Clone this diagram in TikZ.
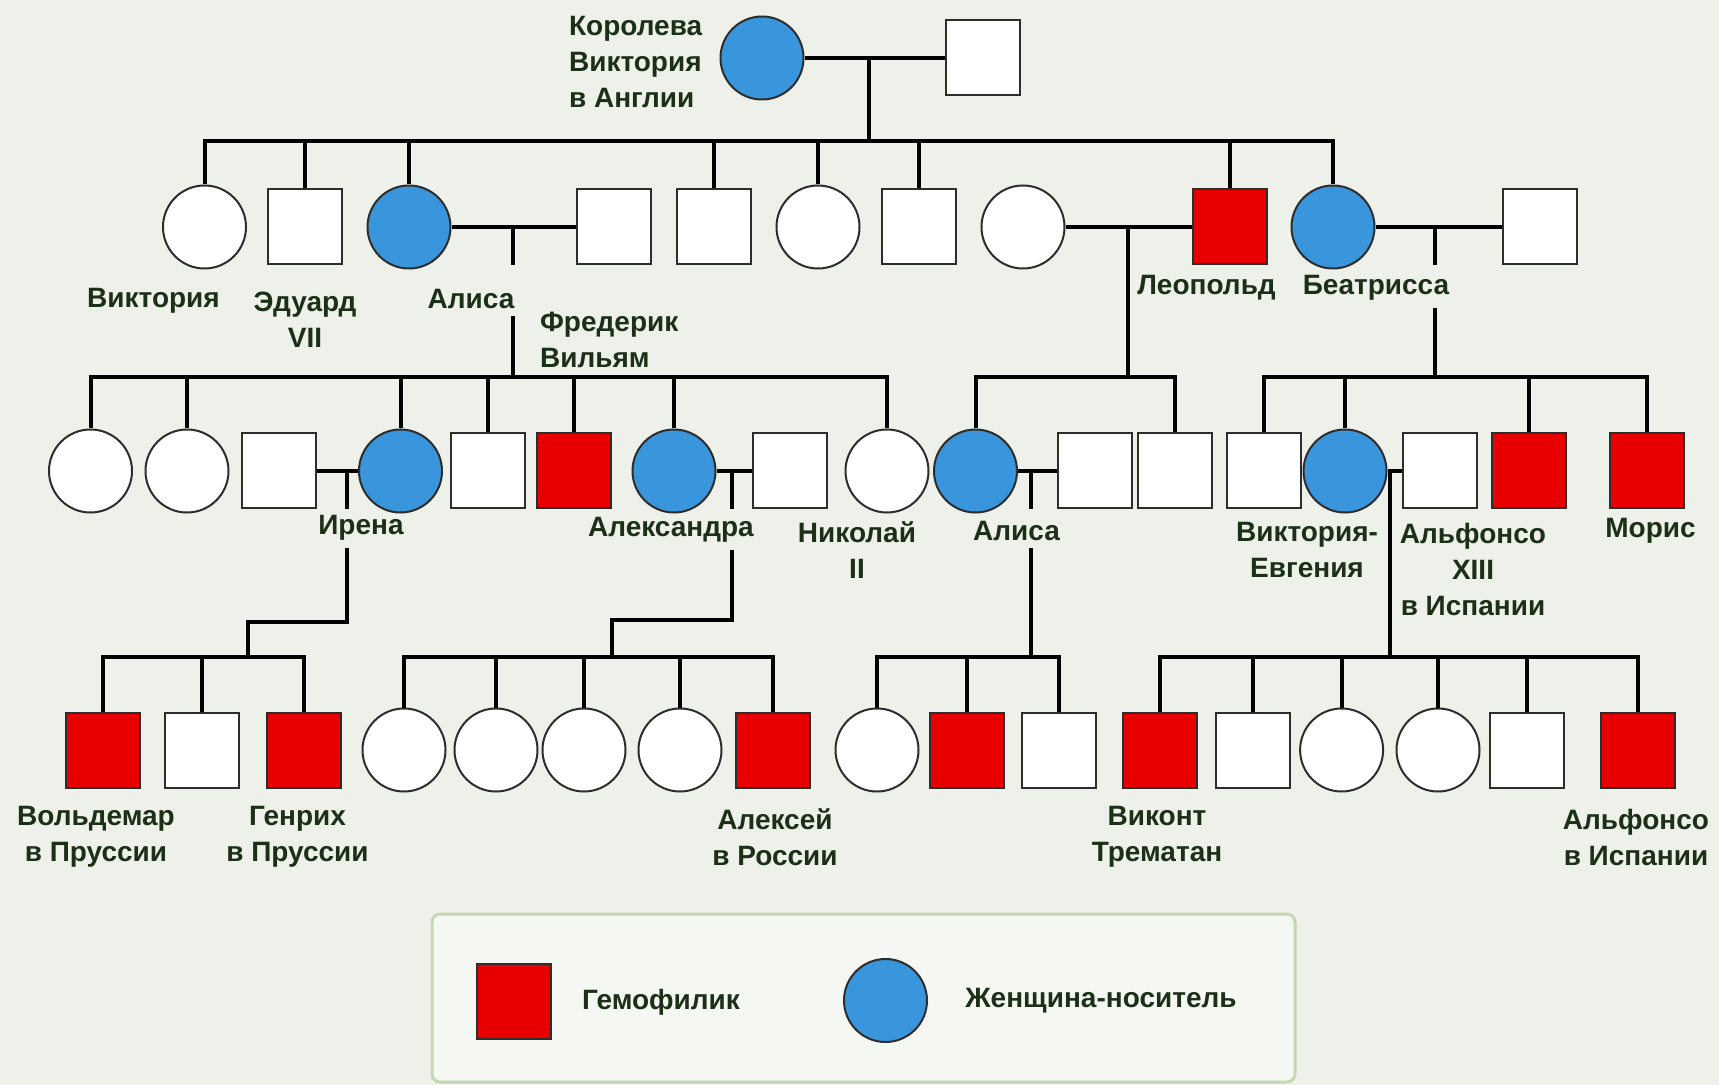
\documentclass[tikz,border=0pt]{standalone}
\usepackage{fontspec}
\setmainfont{Liberation Sans}
\definecolor{pagebg}{RGB}{238,241,233}
\definecolor{hemored}{RGB}{232,0,0}
\definecolor{carrierblue}{RGB}{58,150,220}
\definecolor{namegreen}{RGB}{28,48,24}
\definecolor{framegreen}{RGB}{196,214,180}
\definecolor{edgegray}{RGB}{45,45,45}

\begin{document}
\begin{tikzpicture}[
  x=0.5pt, y=-0.5pt,
  male/.style={draw=edgegray, line width=1pt, fill=white, minimum width=37pt, minimum height=37.5pt, inner sep=0pt},
  female/.style={draw=edgegray, line width=1pt, fill=white, circle, minimum size=41.5pt, inner sep=0pt},
  hemo/.style={male, fill=hemored},
  carrier/.style={female, fill=carrierblue},
  wire/.style={line width=2pt},
  nametext/.style={text=namegreen, font=\bfseries\fontsize{14}{18}\selectfont, align=center}
]
\path[use as bounding box, fill=pagebg] (0,0) rectangle (1719,1085);

\node[carrier] (queen) at (762,58) {};
\node[male] (albert) at (983,58) {};

\node[female] (vicky) at (204.5,227) {};
\node[male] (edward) at (304.5,227) {};
\node[carrier] (alice) at (409,227) {};
\node[male] (louis) at (613.5,227) {};
\node[male] (son2) at (714,227) {};
\node[female] (daughter3) at (818,227) {};
\node[male] (son3) at (919,227) {};
\node[female] (helene) at (1023,227) {};
\node[hemo] (leopold) at (1230,227) {};
\node[carrier] (beatrice) at (1333,227) {};
\node[male] (henryb) at (1540,227) {};

\node[female] (alice1) at (90.5,471) {};
\node[female] (alice2) at (187,471) {};
\node[male] (henryp) at (278.5,471) {};
\node[carrier] (irene) at (400.5,471) {};
\node[male] (alice4) at (488,471) {};
\node[hemo] (alice5) at (573.5,471) {};
\node[carrier] (alix) at (674,471) {};
\node[male] (nicholas) at (790,471) {};
\node[female] (alice7) at (887,471) {};
\node[carrier] (alicea) at (975.5,471) {};
\node[male] (alexteck) at (1095,471) {};
\node[male] (leo2) at (1174.5,471) {};
\node[male] (beat1) at (1264,471) {};
\node[carrier] (ena) at (1345,471) {};
\node[male] (alfonso) at (1439.6,471) {};
\node[hemo] (beat3) at (1529,471) {};
\node[hemo] (maurice) at (1647,471) {};

\node[hemo] (irene1) at (103,750) {};
\node[male] (irene2) at (202,750) {};
\node[hemo] (irene3) at (304,750) {};
\node[female] (alix1) at (404,750) {};
\node[female] (alix2) at (496,750) {};
\node[female] (alix3) at (584,750) {};
\node[female] (alix4) at (680,750) {};
\node[hemo] (alix5) at (773,750) {};
\node[female] (teck1) at (877,750) {};
\node[hemo] (teck2) at (967,750) {};
\node[male] (teck3) at (1059,750) {};
\node[hemo] (ena1) at (1160,750) {};
\node[male] (ena2) at (1253,750) {};
\node[female] (ena3) at (1341.6,750) {};
\node[female] (ena4) at (1438,750) {};
\node[male] (ena5) at (1527,750) {};
\node[hemo] (ena6) at (1638,750) {};

\node[nametext, align=left, anchor=west] (queenname) at (562,62) {Королева\\Виктория\\в Англии};
\node[nametext] (vickyname) at (153.5,301) {Виктория};
\node[nametext] (edwardname) at (305,320) {Эдуард\\VII};
\node[nametext] (alicename) at (471,299) {Алиса};
\node[nametext, align=left, anchor=west] (louisname) at (533,340) {Фредерик\\Вильям};
\node[nametext] (leopoldname) at (1206.5,288) {Леопольд};
\node[nametext] (beatname) at (1376,288) {Беатрисса};
\node[nametext] (irenename) at (361,528) {Ирена};
\node[nametext] (alixname) at (671,530) {Александра};
\node[nametext] (nicholasname) at (857,550) {Николай\\II};
\node[nametext] (aliceaname) at (1016.5,531) {Алиса};
\node[nametext] (enaname) at (1307,550) {Виктория-\\Евгения};
\node[nametext] (alfonsoname) at (1473,569) {Альфонсо\\XIII\\в Испании};
\node[nametext] (mauricename) at (1650.5,531) {Морис};
\node[nametext] (irene1name) at (96,837) {Вольдемар\\в Пруссии};
\node[nametext] (irene3name) at (297.5,837) {Генрих\\в Пруссии};
\node[nametext] (alix5name) at (775,837) {Алексей\\в России};
\node[nametext] (ena1name) at (1157,837) {Виконт\\Трематан};
\node[nametext] (ena6name) at (1636,837) {Альфонсо\\в Испании};

\coordinate (m1) at (869,58);
\coordinate (s2) at (869,141);
\draw[wire] (queen) -- (albert);
\draw[wire] (m1) -- (s2);
\draw[wire] (vicky.north) -- (vicky |- s2) -- (beatrice |- s2) -- (beatrice.north);
\draw[wire] (edward.north) -- (edward |- s2) (alice.north) -- (alice |- s2)
  (son2.north) -- (son2 |- s2) (daughter3.north) -- (daughter3 |- s2)
  (son3.north) -- (son3 |- s2) (leopold.north) -- (leopold |- s2);

\coordinate (m2) at (513,227);
\coordinate (s3a) at (513,377);
\draw[wire] (alice) -- (louis);
\draw[wire] (m2) -- (m2 |- louis.south) (m2 |- alicename.south) -- (s3a);
\draw[wire] (alice1.north) -- (alice1 |- s3a) -- (alice7 |- s3a) -- (alice7.north);
\draw[wire] (alice2.north) -- (alice2 |- s3a) (irene.north) -- (irene |- s3a)
  (alice4.north) -- (alice4 |- s3a) (alice5.north) -- (alice5 |- s3a)
  (alix.north) -- (alix |- s3a);

\coordinate (m3) at (1128,227);
\coordinate (s3b) at (1128,377);
\draw[wire] (helene) -- (leopold);
\draw[wire] (m3) -- (s3b);
\draw[wire] (alicea.north) -- (alicea |- s3b) -- (leo2 |- s3b) -- (leo2.north);

\coordinate (m4) at (1435,227);
\coordinate (s3c) at (1435,377);
\draw[wire] (beatrice) -- (henryb);
\draw[wire] (m4) -- (m4 |- henryb.south) (m4 |- beatname.south) -- (s3c);
\draw[wire] (beat1.north) -- (beat1 |- s3c) -- (maurice |- s3c) -- (maurice.north);
\draw[wire] (ena.north) -- (ena |- s3c) (beat3.north) -- (beat3 |- s3c);

\coordinate (m5) at (346.6,471);
\coordinate (k5) at (248,622);
\coordinate (s4a) at (248,657);
\draw[wire] (henryp) -- (irene);
\draw[wire] (m5) -- (m5 |- henryp.south) (m5 |- irenename.south) |- (k5) -- (s4a);
\draw[wire] (irene1.north) -- (irene1 |- s4a) -- (irene3 |- s4a) -- (irene3.north);
\draw[wire] (irene2.north) -- (irene2 |- s4a);

\coordinate (m6) at (732,471);
\coordinate (k6) at (611.5,620);
\coordinate (s4b) at (611.5,657);
\draw[wire] (alix) -- (nicholas);
\draw[wire] (m6) -- (m6 |- nicholas.south) (m6 |- alixname.south) |- (k6) -- (s4b);
\draw[wire] (alix1.north) -- (alix1 |- s4b) -- (alix5 |- s4b) -- (alix5.north);
\draw[wire] (alix2.north) -- (alix2 |- s4b) (alix3.north) -- (alix3 |- s4b)
  (alix4.north) -- (alix4 |- s4b);

\coordinate (m7) at (1031,471);
\coordinate (s4c) at (1031,657);
\draw[wire] (alicea) -- (alexteck);
\draw[wire] (m7) -- (m7 |- alexteck.south) (m7 |- aliceaname.south) -- (s4c);
\draw[wire] (teck1.north) -- (teck1 |- s4c) -- (teck3 |- s4c) -- (teck3.north);
\draw[wire] (teck2.north) -- (teck2 |- s4c);

\coordinate (m8) at (1390,471);
\coordinate (s4d) at (1390,657);
\draw[wire] (ena) -- (alfonso);
\draw[wire] (m8) -- (s4d);
\draw[wire] (ena1.north) -- (ena1 |- s4d) -- (ena6 |- s4d) -- (ena6.north);
\draw[wire] (ena2.north) -- (ena2 |- s4d) (ena3.north) -- (ena3 |- s4d)
  (ena4.north) -- (ena4 |- s4d) (ena5.north) -- (ena5 |- s4d);

\draw[draw=framegreen, line width=1.5pt, rounded corners=4pt, fill=pagebg!60!white] (432,914) rectangle (1295,1082);
\node[hemo] (keyhemo) at (513.5,1001.5) {};
\node[nametext] (keyhemoname) at (661,1002) {Гемофилик};
\node[carrier] (keycarrier) at (885.5,1000.5) {};
\node[nametext] (keycarriername) at (1101,1001) {Женщина-носитель};
\end{tikzpicture}
\end{document}
